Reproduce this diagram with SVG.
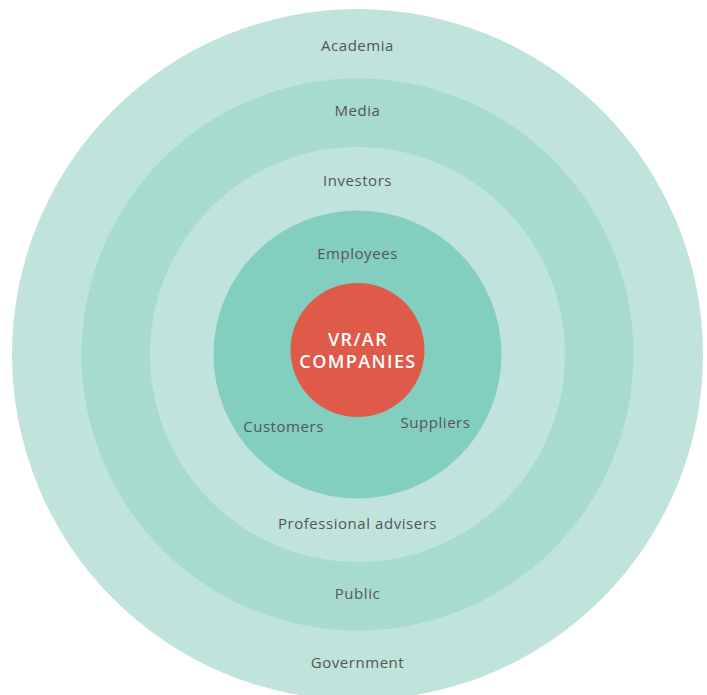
<svg xmlns="http://www.w3.org/2000/svg" width="707" height="695" viewBox="0 0 707 695">
<style>
.lbl{font-family:"Open Sans","DejaVu Sans",sans-serif;font-size:15px;letter-spacing:0.55px;fill:#555555;text-anchor:middle}
.core{font-family:"Open Sans","DejaVu Sans",sans-serif;font-size:18px;font-weight:600;letter-spacing:1.4px;fill:#ffffff;text-anchor:middle}
</style>
<rect width="707" height="695" fill="#ffffff"/>
<g id="ring-academia"><circle cx="357.5" cy="354.5" r="345.5" fill="#C0E3DC"/><text class="lbl" x="357.5" y="51">Academia</text><text class="lbl" x="357.5" y="668">Government</text></g>
<g id="ring-media"><circle cx="357.5" cy="354.5" r="276" fill="#A8DBD0"/><text class="lbl" x="357.5" y="115.5">Media</text><text class="lbl" x="357.5" y="599">Public</text></g>
<g id="ring-investors"><circle cx="357.5" cy="354.5" r="207.5" fill="#C0E3DC"/><text class="lbl" x="357.5" y="186">Investors</text><text class="lbl" x="357.5" y="529">Professional advisers</text></g>
<g id="ring-employees"><circle cx="357.5" cy="354.5" r="144" fill="#83CFBF"/><text class="lbl" x="357.5" y="259">Employees</text><text class="lbl" x="283.5" y="432">Customers</text><text class="lbl" x="435.5" y="428">Suppliers</text></g>
<g id="core"><circle cx="357.5" cy="350" r="67" fill="#E05A4A"/><text class="core" x="358" y="345.5">VR/AR</text><text class="core" x="358" y="367.5">COMPANIES</text></g>
<g id="connectors"/>
</svg>
